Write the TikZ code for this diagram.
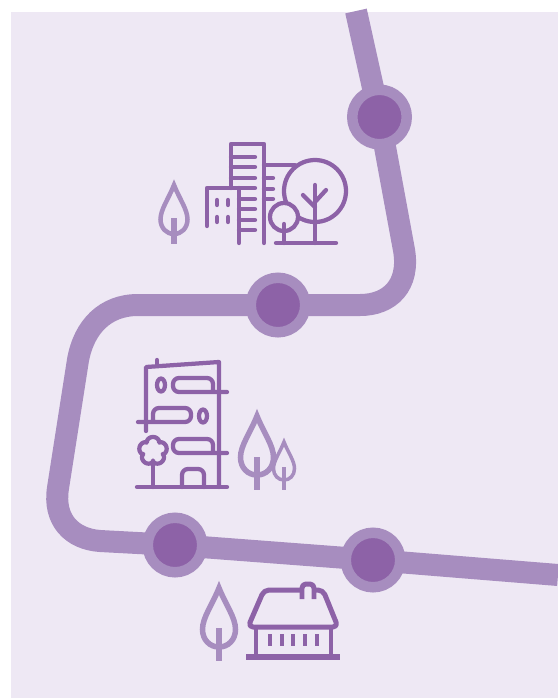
\documentclass[tikz,border=0pt]{standalone}
\usepackage{xcolor}
\usepackage{tikz}
\usetikzlibrary{backgrounds}

\definecolor{pagelilac}{HTML}{EEE8F4}
\definecolor{routelilac}{HTML}{A78DBF}
\definecolor{darklilac}{HTML}{8D62A7}

\tikzset{
  station/.style={circle, fill=darklilac, draw=routelilac, line width=.21cm, minimum size=1.09cm, inner sep=0pt},
  routeline/.style={draw=routelilac, line width=.44cm},
  iconline/.style={draw=darklilac, line width=.085cm, line cap=round, line join=round},
  houseline/.style={draw=darklilac, line width=.1cm, line join=round}
}

\begin{document}
\begin{tikzpicture}[x=.02cm, y=-.02cm]
    \useasboundingbox (0,0) rectangle (558,698);

    % Stations
    \foreach \name/\x/\y in {stTop/379.5/117, stMid/278/305, stLeft/175/545, stRight/373/560}
        \node[station] (\name) at (\x,\y) {};

    \coordinate (routeStart) at (356,11);
    \coordinate (routeEnd) at (558,575);

    % Route, under the stations
    \begin{pgfonlayer}{background}
        \fill[pagelilac] (11,12) rectangle (558,698);
        \draw[routeline] (routeStart) -- (stTop.center) -- (404,250)
            .. controls (410,285) and (390,305) .. (360,305)
            -- (stMid.center) -- (138,305)
            .. controls (105,305) and (84,327) .. (78,360)
            -- (58,488)
            .. controls (53,520) and (72,539) .. (100,541)
            -- (stLeft.center) -- (stRight.center) -- (routeEnd);
    \end{pgfonlayer}

    % Trees: x / apex / half width / height / stem top / stem end / line / stem
    \foreach \x/\y/\w/\h/\s/\e/\l/\m in {174/185/13.5/49/218/244/.09/.12, 219/588/16.5/59/628/661/.11/.14,
                                         257/416/16.5/59/457/490/.11/.14, 284/442/10.5/38/467/490/.07/.09}
    {
        \draw[routelilac, line width=\l cm, line join=miter]
            (\x,\y) .. controls ({\x+.4*\w},{\y+.28*\h}) and ({\x+\w},{\y+.5*\h}) .. ({\x+\w},{\y+.7*\h})
            .. controls ({\x+\w},{\y+.88*\h}) and ({\x+.55*\w},{\y+\h}) .. (\x,{\y+\h})
            .. controls ({\x-.55*\w},{\y+\h}) and ({\x-\w},{\y+.88*\h}) .. ({\x-\w},{\y+.7*\h})
            .. controls ({\x-\w},{\y+.5*\h}) and ({\x-.4*\w},{\y+.28*\h}) .. cycle;
        \draw[routelilac, line width=\m cm] (\x,\s) -- (\x,\e);
    }

    % City block
    \draw[iconline] (231,188) -- (231,144) -- (264,144) -- (264,243);
    \draw[iconline] (239,188) -- (239,243);
    \draw[iconline] (207,226) -- (207,188) -- (239,188);
    \foreach \y in {157,167,178}
        \draw[iconline] (231,\y) -- (255,\y);
    \foreach \y in {188,199,209,220,230}
        \draw[iconline] (239,\y) -- (255,\y);
    \foreach \y in {178,189,199}
        \draw[iconline] (264,\y) -- (273,\y);
    \foreach \x in {217,228}
        \foreach \y in {200,217}
            \draw[iconline] (\x,\y) -- (\x,\y+5);
    \draw[iconline] (264,165) -- (295,165);
    \draw[iconline, fill=pagelilac] (315,191) circle (31);
    \draw[iconline, fill=pagelilac] (284,217) circle (14);
    \draw[iconline] (284,224) -- (284,243);
    \draw[iconline] (315,185) -- (315,243);
    \draw[iconline] (303,195) -- (315,207);
    \draw[iconline] (326,190) -- (315,202);
    \draw[iconline] (276,243) -- (336,243);

    % Apartment house
    \draw[iconline] (146,431) -- (146,367) -- (219,362) -- (219,487);
    \draw[iconline] (157,360) -- (157,366);
    \draw[iconline] (137,487) -- (227,487);
    \draw[iconline, rounded corners=.12cm] (182,487) -- (182,469) -- (204,469) -- (204,487);
    \draw[iconline, rounded corners=.12cm] (227,392) -- (173,392) -- (173,378) -- (213,378) -- (213,392);
    \draw[iconline, rounded corners=.12cm] (227,453) -- (173,453) -- (173,439) -- (213,439) -- (213,453);
    \draw[iconline, rounded corners=.12cm] (138,422) -- (191,422) -- (191,408) -- (153,408) -- (153,422);
    \draw[iconline] (161,385) ellipse (4 and 6.5);
    \draw[iconline] (203,416) ellipse (4 and 6.5);
    \draw[iconline, fill=pagelilac] plot[domain=0:360, samples=145]
        ({153+(9.5+4.5*sqrt(abs(cos(2.5*(\x-90)))))*cos(\x)}, {451-(9.5+4.5*sqrt(abs(cos(2.5*(\x-90)))))*sin(\x)}) -- cycle;
    \draw[iconline] (153,465) -- (153,487);

    % Small house
    \draw[houseline, rounded corners=.1cm] (264,590) -- (323,590) -- (338,627) -- (248,627) -- cycle;
    \draw[houseline, fill=pagelilac, rounded corners=.08cm] (302,599) -- (302,584) -- (314,584) -- (314,599);
    \draw[houseline] (256,627) -- (256,657);
    \draw[houseline] (331,627) -- (331,657);
    \draw[houseline, line width=.12cm] (246,657) -- (340,657);
    \foreach \x in {270,282,293,305,317}
        \draw[houseline] (\x,634) -- (\x,646);
\end{tikzpicture}
\end{document}
